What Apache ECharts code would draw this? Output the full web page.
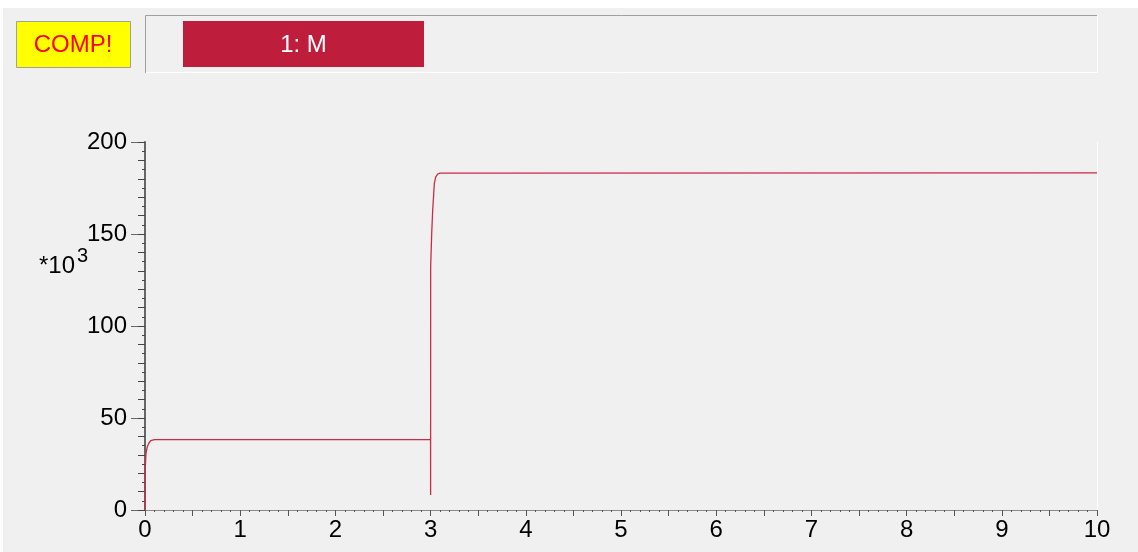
<!DOCTYPE html>
<html>
<head>
<meta charset="utf-8">
<script src="https://cdn.jsdelivr.net/npm/echarts@6/dist/echarts.min.js"></script>
<style>
  html, body { margin: 0; padding: 0; background: #ffffff; }
  #chart { width: 1138px; height: 552px; }
</style>
</head>
<body>
<div id="chart"></div>
<script>
// ---- data (values in thousands, axis shows *10^3) ----
const seriesNames = ['1: M'];
const timeValues = [0, 0.001, 0.0105, 0.024, 0.039, 0.06, 0.08, 0.1, 2.9995, 3.0, 3.0005, 3.012, 3.022, 3.033, 3.039, 3.054, 3.075, 3.1, 10];
const mValues    = [0, 20.8, 30.8, 34.4, 36.2, 37.7, 38.2, 38.3, 38.3, 8.2, 132, 151, 163, 172, 177.5, 181, 182.6, 183.1, 183.2];
const xTickLabels = ['0','1','2','3','4','5','6','7','8','9','10'];
const yTickLabels = ['0','50','100','150','200'];
const statusText = 'COMP!';
const unitLabel = '*10';
const unitExp = '3';

const chart = echarts.init(document.getElementById('chart'), null, { renderer: 'canvas' });
const FONT = '"Liberation Sans", Arial, sans-serif';
const seriesData = timeValues.map((t, i) => [t, mValues[i]]);

const option = {
  backgroundColor: '#ffffff',
  animation: false,
  grid: { left: 145, right: 41, top: 142, bottom: 42, containLabel: false },
  graphic: [
    { type: 'rect', z: -10, shape: { x: 3, y: 8, width: 1135, height: 544 }, style: { fill: '#f0f0f0' } },
    // status box
    { type: 'rect', shape: { x: 16.5, y: 21.5, width: 114, height: 46 }, style: { fill: '#ffff00', stroke: '#a0a0a0', lineWidth: 1 } },
    { type: 'text', style: { x: 73, y: 45, text: statusText, fill: '#ff0000', font: '24px ' + FONT, align: 'center', verticalAlign: 'middle' } },
    // legend panel
    { type: 'polyline', shape: { points: [[145.5, 73], [145.5, 15.5], [1097, 15.5]] }, style: { stroke: '#a0a0a0', fill: null, lineWidth: 1 } },
    { type: 'polyline', shape: { points: [[146, 72.5], [1097.5, 72.5], [1097.5, 16]] }, style: { stroke: '#ffffff', fill: null, lineWidth: 1 } },
    { type: 'rect', shape: { x: 183, y: 21, width: 241, height: 46 }, style: { fill: '#be1e3c' } },
    { type: 'text', style: { x: 303.5, y: 45, text: seriesNames[0], fill: '#ffffff', font: '24px ' + FONT, align: 'center', verticalAlign: 'middle' } },
    // unit label
    { type: 'text', style: { x: 39, y: 266, text: unitLabel, fill: '#000000', font: '24px ' + FONT, align: 'left', verticalAlign: 'middle' } },
    { type: 'text', style: { x: 77, y: 256, text: unitExp, fill: '#000000', font: '20px ' + FONT, align: 'left', verticalAlign: 'middle' } }
  ],
  xAxis: [
    {
      type: 'value', min: 0, max: 10, interval: 0.5, position: 'bottom',
      axisLine: { show: true, onZero: false, lineStyle: { color: '#ffffff', width: 1 } },
      axisTick: { show: true, length: 6, lineStyle: { color: '#555555', width: 1 } },
      minorTick: { show: true, splitNumber: 5, length: 2, lineStyle: { color: '#555555', width: 1 } },
      splitLine: { show: false },
      axisLabel: {
        show: true, margin: 8, color: '#000000', fontSize: 24, fontFamily: FONT,
        formatter: v => (Math.abs(v - Math.round(v)) < 1e-9 ? xTickLabels[Math.round(v)] : '')
      }
    },
    {
      type: 'value', min: 0, max: 10, position: 'top',
      axisLine: { show: true, lineStyle: { color: '#8a8a8a', width: 1 } },
      axisTick: { show: false }, axisLabel: { show: false }, splitLine: { show: false }
    }
  ],
  yAxis: [
    {
      type: 'value', min: 0, max: 200, interval: 50, position: 'left',
      axisLine: { show: true, lineStyle: { color: '#666666', width: 2 } },
      axisTick: { show: true, length: 14, lineStyle: { color: '#666666', width: 1 } },
      splitLine: { show: false },
      axisLabel: {
        show: true, margin: 18, color: '#000000', fontSize: 24, fontFamily: FONT,
        formatter: v => yTickLabels[Math.round(v / 50)]
      }
    },
    {
      type: 'value', min: 0, max: 200, interval: 10, position: 'left',
      axisLine: { show: false },
      axisTick: { show: true, length: 7, lineStyle: { color: '#444444', width: 1 } },
      minorTick: { show: true, splitNumber: 2, length: 3, lineStyle: { color: '#444444', width: 1 } },
      axisLabel: { show: false }, splitLine: { show: false }
    },
    {
      type: 'value', min: 0, max: 200, position: 'right',
      axisLine: { show: true, lineStyle: { color: '#ffffff', width: 1 } },
      axisTick: { show: false }, axisLabel: { show: false }, splitLine: { show: false }
    }
  ],
  series: [
    {
      name: seriesNames[0], type: 'line', xAxisIndex: 0, yAxisIndex: 0,
      data: seriesData, showSymbol: false, symbol: 'none', smooth: false,
      lineStyle: { color: '#cc2a4a', width: 1.3 }, z: 5
    }
  ]
};
chart.setOption(option);
</script>
</body>
</html>
